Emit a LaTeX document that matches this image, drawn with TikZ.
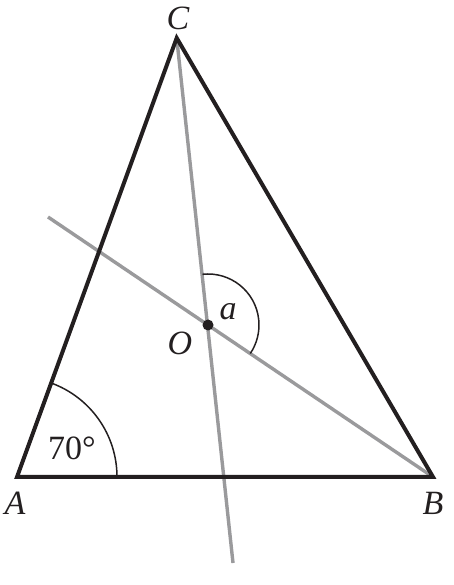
\documentclass[tikz,border=0pt]{standalone}
\usepackage{fontspec}
\setmainfont{Liberation Serif}
\usetikzlibrary{calc}
\definecolor{ink}{HTML}{231F20}
\definecolor{lgray}{HTML}{9A9A9C}
\tikzset{
  tri/.style={draw=ink, line width=4pt, line join=miter},
  gline/.style={draw=lgray, line width=3.4pt},
  angarc/.style={draw=ink, line width=1.5pt},
  lab/.style={font=\fontsize{34}{40}\selectfont, text=ink, inner sep=0pt}
}
\begin{document}
\begin{tikzpicture}[x=1pt,y=1pt]
\useasboundingbox (0,0) rectangle (454,585);
\coordinate (A) at (17,108);
\coordinate (B) at (433,108);
\coordinate (C) at (176.7,547);
\coordinate (O) at (208,260);
\coordinate (G1) at (48,368);
\coordinate (G2) at (233,22);
% gray lines
\draw[gline] (C) -- (G2);
\draw[gline] (G1) -- (B);
% triangle
\draw[tri] (A) -- (B) -- (C) -- cycle;
% angle arcs
\draw[angarc] ($(A)+(100pt,0)$) arc[start angle=0, end angle=70, radius=100pt];
\draw[angarc] ($(O)+(96.2:51pt)$) arc[start angle=96.2, end angle=-34, radius=51pt];
% point O
\fill[ink] (O) circle (5.5pt);
% labels
\node[lab] (lA) at (15,82) {\itshape A};
\node[lab] (lB) at (433,82) {\itshape B};
\node[lab] (lC) at (178,567) {\itshape C};
\node[lab] (lO) at (180,242) {\itshape O};
\node[lab] (la) at (228,273) {\itshape a};
\node[lab] (l70) at (72,137) {70°};
\end{tikzpicture}
\end{document}
